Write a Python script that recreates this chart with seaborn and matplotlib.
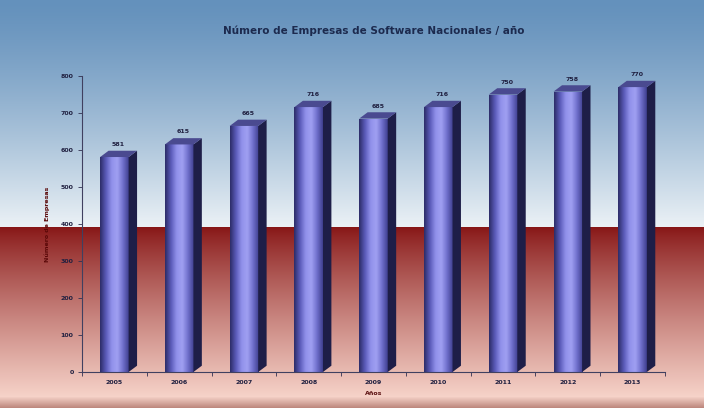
import numpy as np
import pandas as pd
import matplotlib
matplotlib.use("Agg")
import matplotlib.pyplot as plt
import seaborn as sns
from matplotlib.patches import Polygon
from matplotlib.colors import LinearSegmentedColormap

years = ["2005", "2006", "2007", "2008", "2009", "2010", "2011", "2012", "2013"]
values = [581, 615, 665, 716, 685, 716, 750, 758, 770]
labels = ["581", "615", "665", "716", "685", "716", "750", "758", "770"]
yticks = [0, 100, 200, 300, 400, 500, 600, 700, 800]

title = "Número de Empresas de Software Nacionales / año"
ylabel = "Número de Empresas"
xlabel = "Años"

sns.set_theme(style="white")
plt.rcParams['font.family'] = ['DejaVu Sans']

W, H = 704, 408
fig = plt.figure(figsize=(W / 100, H / 100), dpi=100)

# background gradient
bg = fig.add_axes([0, 0, 1, 1], zorder=0)
rows = np.arange(H)
img = np.zeros((H, 1, 3))
top_c = np.array([100, 145, 188]) / 255
mid_c = np.array([236, 242, 246]) / 255
red_c = np.array([135, 22, 22]) / 255
pink_c = np.array([246, 210, 200]) / 255
band_c = np.array([185, 130, 120]) / 255
for r in rows:
    if r < 227:
        t = (r / 227) ** 1.3
        c = top_c * (1 - t) + mid_c * t
    elif r < 396:
        t = ((r - 227) / 169) ** 0.85
        c = red_c * (1 - t) + pink_c * t
    else:
        t = (r - 396) / 12
        c = pink_c * (1 - t) + band_c * t
    img[r, 0] = c
bg.imshow(img, aspect="auto", extent=(0, 1, 0, 1), origin="upper")
bg.set_axis_off()

ax = fig.add_axes([82 / W, 1 - 372 / H, 583 / W, 296 / H], zorder=1)
ax.patch.set_alpha(0)

df = pd.DataFrame({"year": years, "value": values})
sns.barplot(data=df, x="year", y="value", ax=ax, width=0.44, color="#6a6ad0",
            linewidth=0, saturation=1)

ax.set_ylim(0, 800)
ax.set_xlim(-0.5, len(years) - 0.5)
ax.set_yticks(yticks)
ax.set_yticklabels([str(v) for v in yticks], fontsize=4.5, color="#202040", fontweight="bold")
ax.set_xticks(range(len(years)))
ax.set_xticklabels(years, fontsize=4.5, color="#202040", fontweight="bold")
ax.tick_params(axis="x", length=0, pad=6)
ax.tick_params(axis="y", length=3, width=0.6, color="#303050", left=True, pad=3)
ax.set_xticks(np.arange(-0.5, len(years), 1), minor=True)
ax.tick_params(axis="x", which="minor", length=3, width=0.6, color="#303050", bottom=True)

for s in ["top", "right"]:
    ax.spines[s].set_visible(False)
for s in ["left", "bottom"]:
    ax.spines[s].set_color("#404060")
    ax.spines[s].set_linewidth(0.8)

ax.set_title(title, fontsize=7.5, fontweight="bold", color="#1c2a4e", pad=30)
ax.set_ylabel(ylabel, fontsize=4.5, color="#5a0808", fontweight="bold", labelpad=8)
ax.set_xlabel(xlabel, fontsize=4.5, color="#5a1010", fontweight="bold", labelpad=4)

# bar shading: gradient front, dark side and top
cmap = LinearSegmentedColormap.from_list(
    "bar", ["#2c2c68", "#5a5ab8", "#9090ea", "#a0a0f2", "#7070cc", "#404090"])
grad = np.linspace(0, 1, 64).reshape(1, -1)
dx = 0.13
dy = 17
for p, lab in zip(ax.patches, labels):
    x0 = p.get_x()
    w = p.get_width()
    h = p.get_height()
    x1 = x0 + w
    im = ax.imshow(grad, cmap=cmap, aspect="auto", extent=(x0, x1, 0, h),
                   zorder=2, interpolation="bicubic")
    im.set_clip_path(p)
    p.set_zorder(2)
    side = Polygon([(x1, 0), (x1 + dx, dy), (x1 + dx, h + dy), (x1, h)],
                   closed=True, facecolor="#1e1e48", edgecolor="none", zorder=3)
    topf = Polygon([(x0, h), (x0 + dx, h + dy), (x1 + dx, h + dy), (x1, h)],
                   closed=True, facecolor="#4a4a90", edgecolor="none", zorder=3)
    ax.add_patch(side)
    ax.add_patch(topf)
    ax.text(x0 + w / 2 + dx / 2, h + dy + 10, lab, ha="center", va="bottom",
            fontsize=4.5, color="#202040", fontweight="bold", zorder=4)

ax.set_xlim(-0.5, len(years) - 0.5)
ax.set_ylim(0, 800)

fig.savefig("out.png", dpi=100)
